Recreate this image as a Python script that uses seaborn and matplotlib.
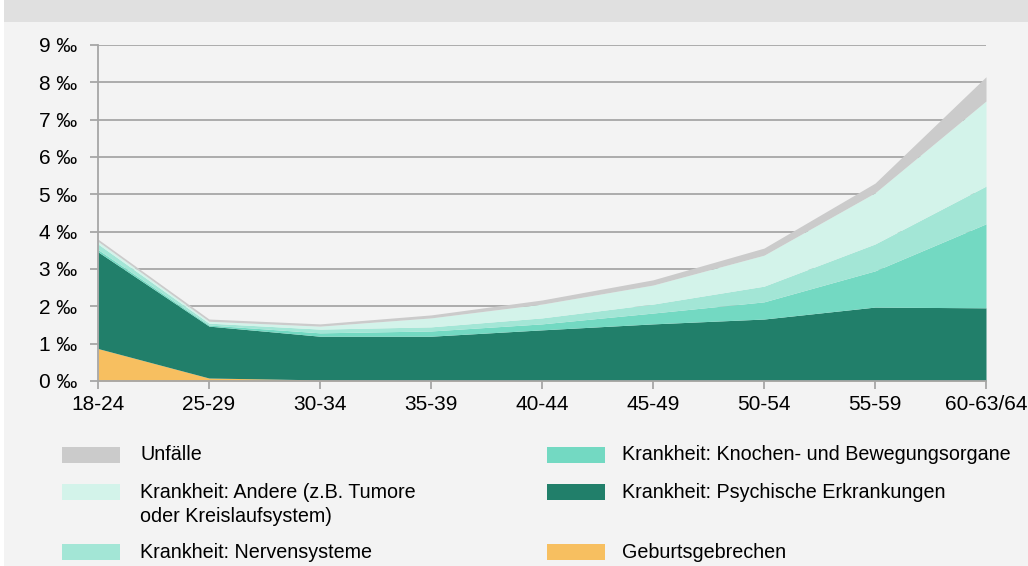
import matplotlib
matplotlib.use("Agg")
import matplotlib.pyplot as plt
from matplotlib.patches import Rectangle
import seaborn as sns
import numpy as np

categories = ["18-24", "25-29", "30-34", "35-39", "40-44", "45-49", "50-54", "55-59", "60-63/64"]
geburtsgebrechen = [0.87, 0.08, 0.03, 0.02, 0.01, 0.01, 0.01, 0.01, 0.01]
psychische = [2.59, 1.39, 1.17, 1.18, 1.36, 1.52, 1.65, 1.97, 1.95]
knochen = [0.06, 0.03, 0.09, 0.14, 0.16, 0.29, 0.46, 0.97, 2.25]
nerven = [0.15, 0.05, 0.10, 0.11, 0.16, 0.24, 0.42, 0.72, 1.01]
andere = [0.07, 0.05, 0.08, 0.24, 0.37, 0.51, 0.83, 1.37, 2.28]
unfaelle = [0.06, 0.06, 0.06, 0.08, 0.11, 0.14, 0.19, 0.26, 0.65]
y_ticks = list(range(0, 10))

series_labels = ["Geburtsgebrechen", "Krankheit: Psychische Erkrankungen",
                 "Krankheit: Knochen- und Bewegungsorgane", "Krankheit: Nervensysteme",
                 "Krankheit: Andere (z.B. Tumore\noder Kreislaufsystem)", "Unfälle"]
colors = ["#f7bf60", "#217f6a", "#73d9c2", "#a3e6d6", "#d3f3ea", "#cbcbcb"]

sns.set_theme(style="white")
plt.rcParams['font.family'] = ['Liberation Sans', 'DejaVu Sans']
plt.rcParams['text.color'] = 'black'

BG = "#f3f3f3"
fig = plt.figure(figsize=(10.28, 5.66), dpi=100, facecolor=BG)
W, H = 1028, 566

# title band (cut off at top)
fig.add_artist(Rectangle((4 / W, 1 - 22 / H), 1 - 4 / W, 22 / H, transform=fig.transFigure,
                         facecolor="#e0e0e0", edgecolor="none", zorder=0))
fig.add_artist(Rectangle((0, 0), 4 / W, 1, transform=fig.transFigure,
                         facecolor="white", edgecolor="none", zorder=0))

ax = fig.add_axes([98 / W, (H - 381) / H, 888 / W, 336 / H])
ax.set_facecolor(BG)
x = np.arange(len(categories))
ax.stackplot(x, geburtsgebrechen, psychische, knochen, nerven, andere, unfaelle,
             colors=colors, labels=series_labels, linewidth=0, zorder=2)
ax.set_xlim(0, len(categories) - 1)
ax.set_ylim(0, 9)
ax.set_yticks(y_ticks)
ax.set_yticklabels([f"{v} ‰" for v in y_ticks])
ax.set_xticks(x)
ax.set_xticklabels(categories)
ax.grid(axis="y", color="#a6a6a6", linewidth=1.3, zorder=0)
ax.set_axisbelow(True)
sns.despine(ax=ax, top=True, right=True)
for sp in ["left", "bottom"]:
    ax.spines[sp].set_color("#a6a6a6")
    ax.spines[sp].set_linewidth(1.3)
    ax.spines[sp].set_zorder(3)
ax.tick_params(axis="both", colors="#a6a6a6", length=6, width=1.3, labelcolor="black",
               labelsize=15, left=True, bottom=True)
ax.tick_params(axis="y", pad=9)
ax.tick_params(axis="x", pad=4)

# manual legend
legend_items = [
    (62, 455, ["Unfälle"], colors[5]),
    (62, 492, ["Krankheit: Andere (z.B. Tumore", "oder Kreislaufsystem)"], colors[4]),
    (62, 552, ["Krankheit: Nervensysteme"], colors[3]),
    (547, 455, ["Krankheit: Knochen- und Bewegungsorgane"], colors[2]),
    (547, 492, ["Krankheit: Psychische Erkrankungen"], colors[1]),
    (547, 552, ["Geburtsgebrechen"], colors[0]),
]
for px, py, lines, col in legend_items:
    fig.add_artist(Rectangle((px / W, (H - py - 8) / H), 58 / W, 16 / H,
                             transform=fig.transFigure, facecolor=col, edgecolor="none"))
    tx = px + 78 if px < 300 else px + 75
    for i, line in enumerate(lines):
        fig.text(tx / W, (H - py - 24 * i) / H, line, ha="left", va="center",
                 fontsize=14.2, color="black", transform=fig.transFigure)

fig.savefig("out.png", dpi=100, facecolor=BG)
